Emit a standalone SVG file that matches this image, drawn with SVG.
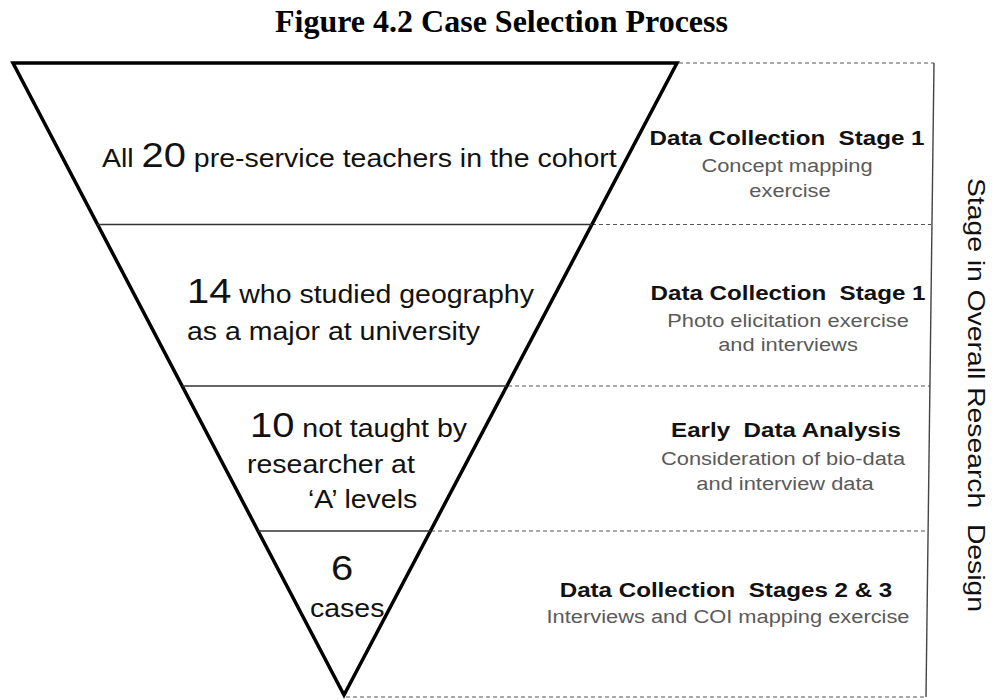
<svg xmlns="http://www.w3.org/2000/svg" width="994" height="700" viewBox="0 0 994 700">
<style>
.title{font-family:"Liberation Serif","Times New Roman",serif;font-weight:bold;font-size:32px;fill:#000}
.lt{font-family:"Liberation Sans",Arial,sans-serif;font-size:25px;fill:#111}
.big{font-size:35px}
.bh{font-family:"Liberation Sans",Arial,sans-serif;font-weight:bold;font-size:21px;fill:#111;text-anchor:middle}
.gt{font-family:"Liberation Sans",Arial,sans-serif;font-size:19px;fill:#5a5a5a;text-anchor:middle}
.vt{font-family:"Liberation Sans",Arial,sans-serif;font-size:24px;fill:#111}
.tri{fill:#fff;stroke:#000;stroke-width:3.5;stroke-linejoin:miter}
.div{stroke:#333;stroke-width:1.6}
.dash{stroke:#555;stroke-width:1.2;stroke-dasharray:4 3;fill:none}
.vline{stroke:#444;stroke-width:1.4}
</style>
<rect width="994" height="700" fill="#fff"/>
<text class="title" x="275" y="32">Figure 4.2 Case Selection Process</text>
<g id="connectors">
<line class="dash" x1="679" y1="63" x2="934" y2="63"/>
<line class="dash" x1="592" y1="224.5" x2="931" y2="224.5"/>
<line class="dash" x1="508" y1="386" x2="930" y2="386"/>
<line class="dash" x1="431" y1="531" x2="927" y2="531"/>
<line class="dash" x1="346" y1="697" x2="926" y2="697"/>
<line class="vline" x1="934" y1="63" x2="926" y2="697"/>
</g>
<g id="funnel">
<polygon class="tri" points="13,63 677,63 344,695"/>
<line class="div" x1="97" y1="224.5" x2="592" y2="224.5"/>
<line class="div" x1="182" y1="386" x2="507" y2="386"/>
<line class="div" x1="258" y1="531" x2="431" y2="531"/>
</g>
<g id="level1">
<text class="lt" transform="translate(102,167) scale(1.14,1)">All <tspan class="big">20</tspan> pre-service teachers in the cohort</text>
</g>
<g id="level2">
<text class="lt" transform="translate(187,303) scale(1.14,1)"><tspan class="big">14</tspan> who studied geography</text>
<text class="lt" transform="translate(187,340) scale(1.14,1)">as a major at university</text>
</g>
<g id="level3">
<text class="lt" transform="translate(250,437) scale(1.14,1)"><tspan class="big">10</tspan> not taught by</text>
<text class="lt" transform="translate(247,473) scale(1.14,1)">researcher at</text>
<text class="lt" transform="translate(308,508) scale(1.14,1)">‘A’ levels</text>
</g>
<g id="level4">
<text class="lt big" text-anchor="middle" transform="translate(342,580) scale(1.14,1)">6</text>
<text class="lt" transform="translate(310,617) scale(1.14,1)">cases</text>
</g>
<g id="stage1">
<text class="bh" transform="translate(787,145) scale(1.15,1)">Data Collection&#160; Stage 1</text>
<text class="gt" transform="translate(787,172) scale(1.15,1)">Concept mapping</text>
<text class="gt" transform="translate(790,197) scale(1.15,1)">exercise</text>
</g>
<g id="stage1b">
<text class="bh" transform="translate(788,300) scale(1.15,1)">Data Collection&#160; Stage 1</text>
<text class="gt" transform="translate(788,327) scale(1.15,1)">Photo elicitation exercise</text>
<text class="gt" transform="translate(788,351) scale(1.15,1)">and interviews</text>
</g>
<g id="analysis">
<text class="bh" transform="translate(786,437) scale(1.15,1)">Early&#160; Data Analysis</text>
<text class="gt" transform="translate(783,465) scale(1.15,1)">Consideration of bio-data</text>
<text class="gt" transform="translate(785,490) scale(1.15,1)">and interview data</text>
</g>
<g id="stage23">
<text class="bh" transform="translate(726,597) scale(1.15,1)">Data Collection&#160; Stages 2 &amp; 3</text>
<text class="gt" transform="translate(728,623) scale(1.15,1)">Interviews and COI mapping exercise</text>
</g>
<g id="axis-label">
<text class="vt" transform="translate(968,178) rotate(90)" textLength="434" lengthAdjust="spacingAndGlyphs">Stage in Overall Research&#160; Design</text>
</g>
</svg>
